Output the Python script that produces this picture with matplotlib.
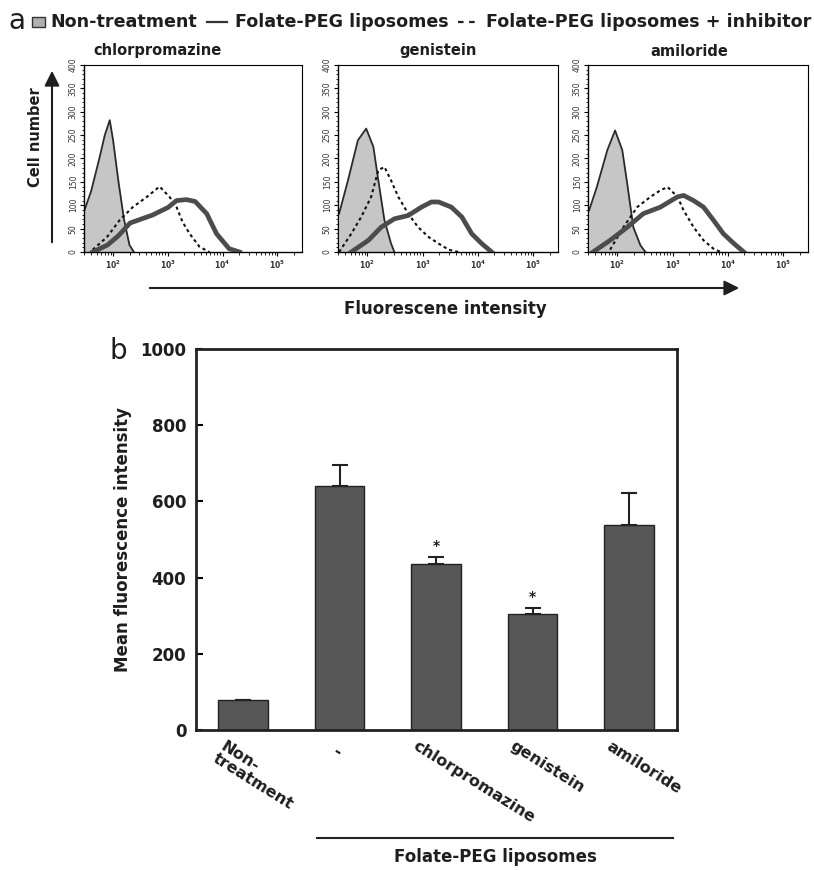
import numpy as np
import matplotlib
matplotlib.use('Agg')
import matplotlib.pyplot as plt
from matplotlib.patches import Rectangle, FancyArrowPatch
from matplotlib.lines import Line2D
from matplotlib.ticker import LogLocator, FixedLocator, MultipleLocator, NullFormatter

plt.rcParams['font.family'] = ['DejaVu Sans']
plt.rcParams['mathtext.fontset'] = 'dejavusans'

# ---------------- panel a: flow cytometry histograms ----------------
panel_titles = ['chlorpromazine', 'genistein', 'amiloride']

# log10(fluorescence), cell count
chl_none_logx = [1.48, 1.6, 1.75, 1.85, 1.94, 2.0, 2.1, 2.2, 2.3, 2.38]
chl_none_cnt = [90, 130, 200, 250, 282, 240, 150, 70, 15, 0]
chl_lipo_logx = [1.63, 1.9, 2.1, 2.31, 2.72, 3.0, 3.16, 3.34, 3.5, 3.71, 3.89, 4.12, 4.31]
chl_lipo_cnt = [0, 15, 35, 62, 79, 95, 110, 112, 108, 82, 39, 7, 0]
chl_inhib_logx = [1.63, 1.89, 2.12, 2.36, 2.62, 2.85, 3.03, 3.16, 3.27, 3.40, 3.58, 3.76]
chl_inhib_cnt = [5, 32, 68, 96, 118, 140, 118, 96, 64, 39, 11, 0]

gen_none_logx = [1.49, 1.65, 1.83, 1.98, 2.11, 2.20, 2.31, 2.43, 2.49]
gen_none_cnt = [82, 153, 239, 264, 225, 153, 68, 18, 0]
gen_lipo_logx = [1.71, 2.02, 2.25, 2.49, 2.74, 2.98, 3.16, 3.29, 3.52, 3.71, 3.89, 4.07, 4.25]
gen_lipo_cnt = [0, 25, 53, 71, 78, 96, 107, 107, 96, 75, 39, 18, 0]
gen_inhib_logx = [1.49, 1.71, 1.89, 2.07, 2.20, 2.31, 2.43, 2.56, 2.74, 2.92, 3.11, 3.29, 3.47, 3.65]
gen_inhib_cnt = [0, 39, 75, 118, 175, 182, 153, 118, 82, 53, 32, 18, 5, 0]

ami_none_logx = [1.49, 1.63, 1.82, 1.96, 2.09, 2.18, 2.29, 2.42, 2.51]
ami_none_cnt = [89, 139, 218, 260, 218, 146, 53, 14, 0]
ami_lipo_logx = [1.56, 1.87, 2.18, 2.47, 2.78, 3.09, 3.20, 3.38, 3.56, 3.74, 3.92, 4.11, 4.29]
ami_lipo_cnt = [0, 25, 53, 82, 96, 118, 121, 110, 96, 68, 39, 18, 0]
ami_inhib_logx = [1.87, 2.11, 2.36, 2.60, 2.78, 2.91, 3.09, 3.20, 3.38, 3.56, 3.74, 3.87]
ami_inhib_cnt = [5, 53, 96, 118, 132, 139, 118, 89, 53, 25, 7, 0]

hist_yticks = [0, 50, 100, 150, 200, 250, 300, 350, 400]
hist_xticks = [1e2, 1e3, 1e4, 1e5]
hist_xticklabels = ['$\\mathbf{10^2}$', '$\\mathbf{10^3}$', '$\\mathbf{10^4}$', '$\\mathbf{10^5}$']

legend_labels = ['Non-treatment', 'Folate-PEG liposomes', 'Folate-PEG liposomes + inhibitor']

# ---------------- panel b: bar chart ----------------
bar_labels = ['Non-\ntreatment', '-', 'chlorpromazine', 'genistein', 'amiloride']
bar_means = [79, 640, 435, 304, 537]
bar_err = [0, 55, 18, 16, 85]
bar_sig = ['', '', '*', '*', '']
bar_yticks = [0, 200, 400, 600, 800, 1000]

W, H = 814, 871
TXT = '#1e1e1e'
fig = plt.figure(figsize=(W / 100, H / 100), dpi=100)


def fx(px):
    return px / W


def fy(py):
    return 1 - py / H


def box(l, t, r, b):
    return [fx(l), fy(b), (r - l) / W, (b - t) / H]


panels = [
    (box(84, 65, 302, 252), chl_none_logx, chl_none_cnt, chl_lipo_logx, chl_lipo_cnt, chl_inhib_logx, chl_inhib_cnt, 158),
    (box(338, 65, 558, 252), gen_none_logx, gen_none_cnt, gen_lipo_logx, gen_lipo_cnt, gen_inhib_logx, gen_inhib_cnt, 438),
    (box(588, 65, 808, 252), ami_none_logx, ami_none_cnt, ami_lipo_logx, ami_lipo_cnt, ami_inhib_logx, ami_inhib_cnt, 689),
]

for i, (rect, nx, ny, lx, ly, ix, iy, tx) in enumerate(panels):
    ax = fig.add_axes(rect)
    nxv = 10 ** np.array(nx)
    ax.fill_between(nxv, ny, 0, color='#c6c6c6', lw=0, zorder=1)
    ax.plot(nxv, ny, color='#2a2a2a', lw=1.3, zorder=2)
    ax.plot(10 ** np.array(ix), iy, color='#111111', lw=1.5, ls=(0, (1.5, 1.5)), zorder=3)
    ax.plot(10 ** np.array(lx), ly, color='#4c4c4c', lw=3.4, zorder=4)
    ax.set_xscale('log')
    ax.set_xlim(10 ** 1.47, 10 ** 5.45)
    ax.set_ylim(0, 400)
    ax.xaxis.set_major_locator(FixedLocator(hist_xticks))
    ax.set_xticklabels(hist_xticklabels)
    ax.xaxis.set_minor_locator(LogLocator(base=10, subs=np.arange(2, 10)))
    ax.xaxis.set_minor_formatter(NullFormatter())
    ax.set_yticks(hist_yticks)
    ax.set_yticklabels([str(v) for v in hist_yticks], rotation=90, va='center')
    ax.yaxis.set_minor_locator(MultipleLocator(10))
    ax.tick_params(axis='both', which='major', labelsize=5.5, length=3, width=0.8, pad=1.5, direction='out',
                   labelcolor='#333333')
    ax.tick_params(axis='both', which='minor', length=1.8, width=0.6, direction='out')
    for s in ax.spines.values():
        s.set_linewidth(0.8)
        s.set_linestyle((0, (2, 0.6)))
    for s in ['left', 'bottom']:
        ax.spines[s].set_linestyle('-')
        ax.spines[s].set_linewidth(1.0)
    fig.text(fx(tx), fy(51), panel_titles[i], ha='center', va='center', fontsize=10.5, fontweight='bold', color=TXT)

# axis arrows for panel a
fig.add_artist(FancyArrowPatch((fx(52), fy(245)), (fx(52), fy(68)), transform=fig.transFigure,
                               arrowstyle='-|>,head_length=6,head_width=3', lw=1.5, color=TXT, mutation_scale=1.5))
fig.text(fx(36), fy(137), 'Cell number', rotation=90, ha='center', va='center', fontsize=10.5, fontweight='bold', color=TXT)
fig.add_artist(FancyArrowPatch((fx(147), fy(288)), (fx(742), fy(288)), transform=fig.transFigure,
                               arrowstyle='-|>,head_length=6,head_width=3', lw=1.5, color=TXT, mutation_scale=1.5))
fig.text(fx(445), fy(309), 'Fluorescene intensity', ha='center', va='center', fontsize=12, fontweight='bold', color=TXT)

# legend row (laid out sequentially, fitted to the figure width)
fig.text(fx(8), fy(21), 'a', ha='left', va='center', fontsize=20, color=TXT)
fig.canvas.draw()
renderer = fig.canvas.get_renderer()
leg_y = 22
handles = [None, ('-', '#333333', 1.6), ((0, (2.5, 2.5)), '#222222', 1.6)]


def build_legend(fs):
    arts = []
    x = 32
    r = Rectangle((fx(x), fy(leg_y + 5)), 13 / W, 10 / H, transform=fig.transFigure,
                  facecolor='#b0b0b0', edgecolor='#333333', lw=1)
    fig.add_artist(r)
    arts.append(r)
    x += 18
    for k, lab in enumerate(legend_labels):
        if handles[k] is not None:
            ls, col, lw = handles[k]
            ln = Line2D([fx(x), fx(x + 20)], [fy(leg_y), fy(leg_y)], transform=fig.transFigure,
                        ls=ls, color=col, lw=lw)
            fig.add_artist(ln)
            arts.append(ln)
            x += 28
        t = fig.text(fx(x), fy(leg_y), lab, ha='left', va='center', fontsize=fs, fontweight='bold', color=TXT)
        arts.append(t)
        x += t.get_window_extent(renderer=renderer).width + 10
    return arts, x - 10


fs = 12
arts, end = build_legend(fs)
for _ in range(3):
    fs = fs * (812 - 50 - 86) / (end - 50 - 86)
    for a in arts:
        a.remove()
    arts, end = build_legend(fs)

# ---------------- panel b ----------------
axb = fig.add_axes(box(196, 349, 677, 730))
xpos = np.arange(len(bar_means))
axb.bar(xpos, bar_means, width=0.51, color='#575757', edgecolor='#222222', lw=1.0, zorder=2)
axb.errorbar(xpos, bar_means, yerr=[np.zeros(len(bar_err)), bar_err], fmt='none', ecolor='#222222',
             elinewidth=1.5, capsize=6, capthick=1.5, zorder=3)
for xi, m, e, s in zip(xpos, bar_means, bar_err, bar_sig):
    if s:
        axb.text(xi, m + e + 12, s, ha='center', va='bottom', fontsize=10, fontweight='bold', color=TXT)
axb.set_xlim(-0.487, 4.497)
axb.set_ylim(0, 1000)
axb.set_yticks(bar_yticks)
axb.set_yticklabels([str(v) for v in bar_yticks])
axb.set_xticks([])
axb.tick_params(axis='y', direction='in', length=5, width=1.5, labelsize=12, pad=7)
for lab in axb.get_yticklabels():
    lab.set_fontweight('bold')
    lab.set_color(TXT)
for s in axb.spines.values():
    s.set_linewidth(2.0)
    s.set_color('#222222')
axb.set_ylabel('Mean fluorescence intensity', fontsize=12, fontweight='bold', color=TXT, labelpad=6)

for xi, lab in zip(xpos, bar_labels):
    if lab == '-':
        axb.text(xi - 0.03, -0.058, lab, transform=axb.get_xaxis_transform(), ha='center', va='center',
                 rotation=-32, fontsize=12, fontweight='bold', color=TXT)
    else:
        axb.text(xi - 0.18, -0.022, lab, transform=axb.get_xaxis_transform(), ha='left', va='top',
                 rotation=-32, rotation_mode='anchor', fontsize=11.5, fontweight='bold', color=TXT,
                 multialignment='left', linespacing=1.0)

fig.add_artist(Line2D([fx(317), fx(673)], [fy(838), fy(838)], transform=fig.transFigure, color='#222222', lw=1.5))
fig.text(fx(495), fy(857), 'Folate-PEG liposomes', ha='center', va='center', fontsize=12, fontweight='bold', color=TXT)
fig.text(fx(118), fy(351), 'b', ha='center', va='center', fontsize=20, color=TXT)

fig.savefig('out.png', dpi=100)
